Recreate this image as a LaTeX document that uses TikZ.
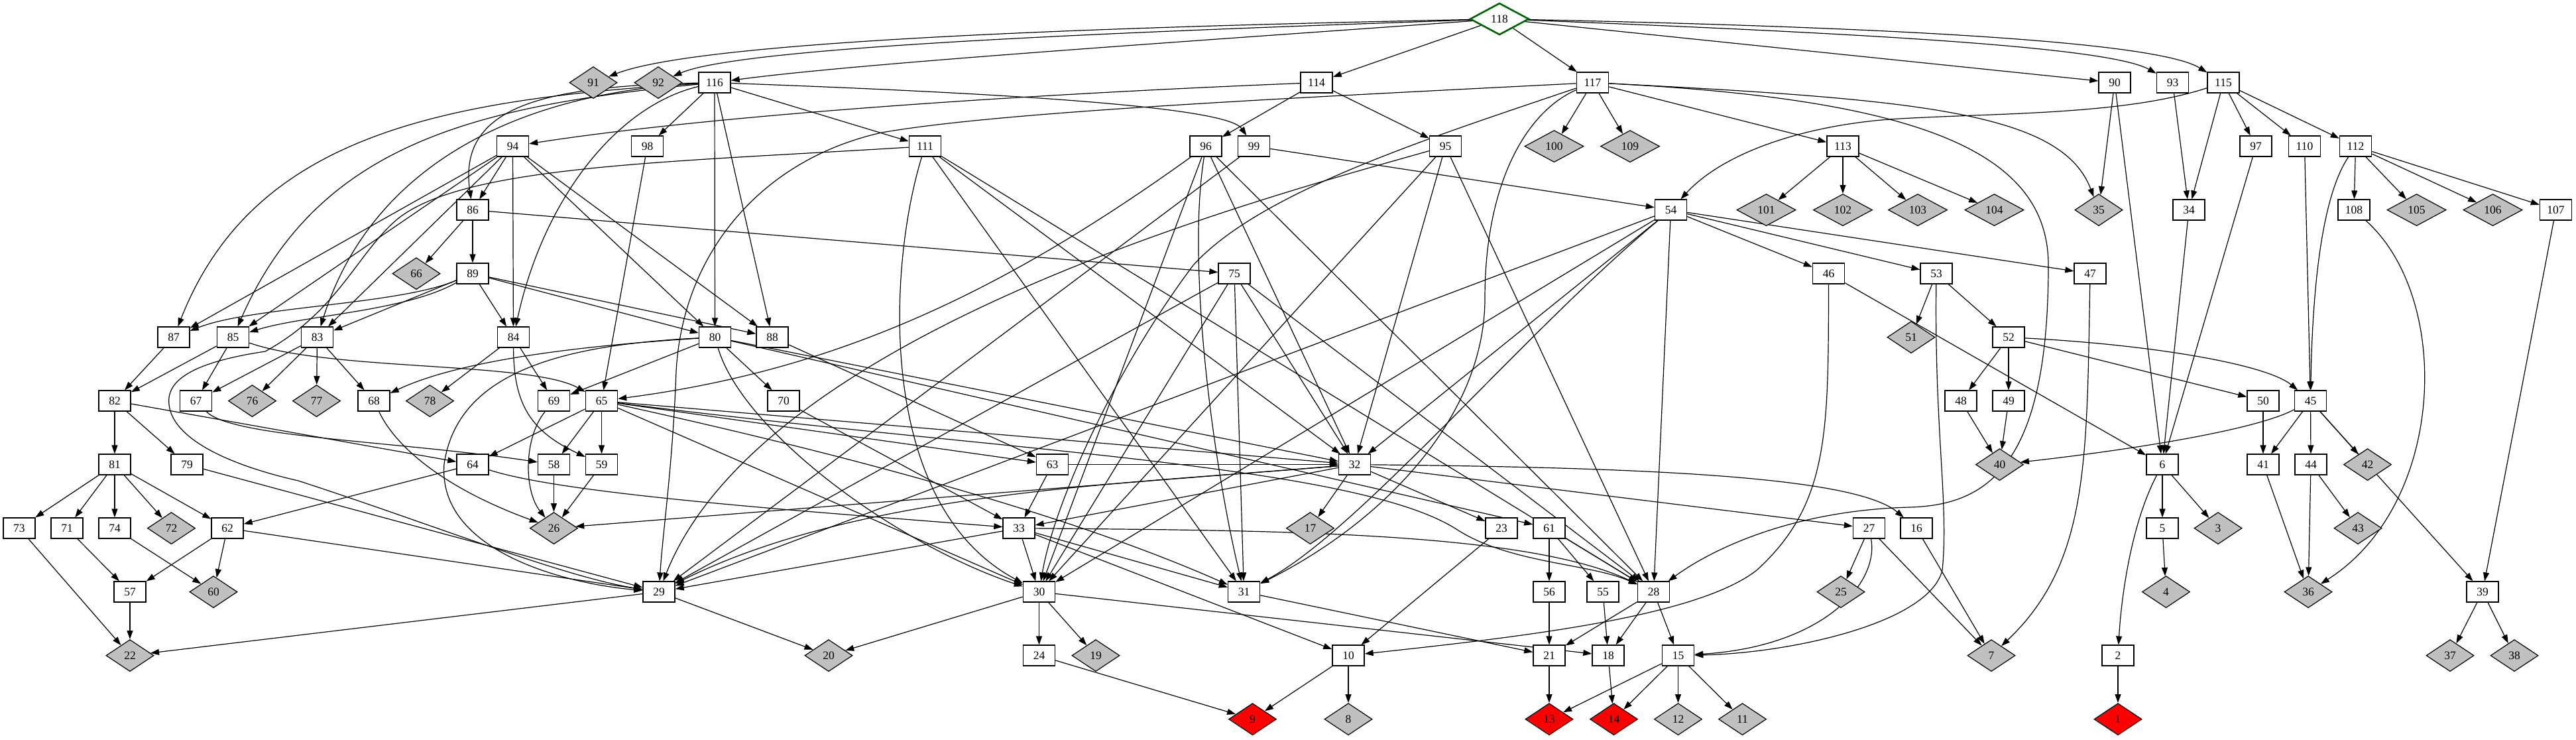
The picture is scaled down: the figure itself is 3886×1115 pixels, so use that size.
\documentclass[tikz,border=0pt]{standalone}
\usepackage{fontspec}
\setmainfont{Liberation Serif}
\usetikzlibrary{shapes.geometric,arrows.meta}
\pgfdeclarelayer{bg}
\pgfsetlayers{bg,main}
\definecolor{silv}{RGB}{192,192,192}
\definecolor{dgreen}{RGB}{0,100,0}
\begin{document}
\begin{tikzpicture}[x=0.5pt,y=-0.5pt,
 lbl/.style={font=\fontsize{8.75pt}{10pt}\selectfont},
 box/.style={lbl,rectangle,draw=black,line width=0.7pt,fill=white,minimum width=24pt,minimum height=15.5pt,inner sep=0pt},
 dia/.style={lbl,diamond,draw=black,line width=0.6pt,fill=silv,minimum width=36pt,minimum height=24pt,inner sep=0pt},
 diaw/.style={dia,minimum width=44.5pt},
 rdia/.style={dia,fill=red},
 gdia/.style={diaw,fill=white,draw=dgreen,line width=1.3pt},
 edge/.style={line width=0.6pt,-{Triangle[length=6.5pt,width=4.5pt]}}]
\useasboundingbox (0,0) rectangle (3886,1115);
% ---------- nodes ----------
\node[gdia] (n118) at (2262,28.6) {118};
\foreach \x/\n in {1078/116,1986/114,2402.5/117,3190/90,3277.5/93,3354/115} \node[box] (n\n) at (\x,124.6) {\n};
\foreach \x/\n in {895/91,993/92} \node[dia] (n\n) at (\x,124.6) {\n};
\foreach \x/\n in {773.5/94,976.5/98,1395.5/111,1819/96,1891.5/99,2180.5/95,2780/113,3403/97,3476.5/110,3553.5/112} \node[box] (n\n) at (\x,220.6) {\n};
\foreach \x/\n in {2344.5/100,2459/109} \node[diaw] (n\n) at (\x,220.6) {\n};
\foreach \x/\n in {713/86,2520.5/54,3302/34,3551/108,3855.5/107} \node[box] (n\n) at (\x,316.6) {\n};
\foreach \x/\n in {2664.5/101,2780/102,2893/103,3008.5/104,3645.5/105,3760.5/106} \node[diaw] (n\n) at (\x,316.6) {\n};
\node[dia] (n35) at (3166,316.6) {35};
\foreach \x/\n in {713/89,1862/75,2758.5/46,2921/53,3153/47} \node[box] (n\n) at (\x,412.6) {\n};
\node[dia] (n66) at (628,412.6) {66};
\foreach \x/\n in {262/87,351.5/85,478.5/83,774.5/84,1078.5/80,1165/88,3030/52} \node[box] (n\n) at (\x,508.6) {\n};
\node[dia] (n51) at (2883,508.6) {51};
\foreach \x/\n in {173/82,295.5/67,564/68,835.5/69,907.5/65,1182/70,2958/48,3030/49,3414/50,3485.5/45} \node[box] (n\n) at (\x,604.6) {\n};
\foreach \x/\n in {380.5/76,477.5/77,648.5/78} \node[dia] (n\n) at (\x,604.6) {\n};
\foreach \x/\n in {173/81,282/79,713/64,835.5/58,907.5/59,1587.5/63,2043.5/32,3262/6,3414/41,3486/44} \node[box] (n\n) at (\x,700.6) {\n};
\foreach \x/\n in {3016.5/40,3571.5/42} \node[dia] (n\n) at (\x,700.6) {\n};
\foreach \x/\n in {29/73,101/71,173/74,343/62,1537/33,2265/23,2337/61,2819.5/27,2891/16,3262/5} \node[box] (n\n) at (\x,796.6) {\n};
\foreach \x/\n in {258.5/72,835.5/26,1976.5/17,3346/3,3557/43} \node[dia] (n\n) at (\x,796.6) {\n};
\foreach \x/\n in {196/57,994/29,1567.5/30,1876.5/31,2337/56,2418/55,2494.5/28,3745/39} \node[box] (n\n) at (\x,892.6) {\n};
\foreach \x/\n in {322/60,2777/25,3267.5/4,3482/36} \node[dia] (n\n) at (\x,892.6) {\n};
\foreach \x/\n in {1567.5/24,2034/10,2337/21,2426/18,2531.5/15,3195/2} \node[box] (n\n) at (\x,988.6) {\n};
\foreach \x/\n in {196/22,1250/20,1653/19,3004/7,3696/37,3793/38} \node[dia] (n\n) at (\x,988.6) {\n};
\foreach \x/\n in {1889.5/9,2337/13,2434.5/14,3195/1} \node[rdia] (n\n) at (\x,1084.6) {\n};
\foreach \x/\n in {2034/8,2531.5/12,2628.5/11} \node[dia] (n\n) at (\x,1084.6) {\n};
% ---------- edges ----------
\begin{pgfonlayer}{bg}
\fill[white] (0,0) rectangle (3886,1115);
\foreach \a/\b in {118/114,118/117,118/90,
116/98,116/80,116/88,116/111,
114/96,114/95,
117/100,117/109,117/113,
90/35,90/6,93/34,
115/34,115/97,115/110,115/112,
94/87,94/85,94/83,94/86,94/84,94/80,94/88,
98/65,
111/31,111/32,111/28,
96/30,96/32,96/28,
99/54,99/29,
95/32,95/30,95/28,
113/101,113/102,113/103,113/104,
97/6,110/45,
112/108,112/105,112/106,112/107,
86/66,86/89,86/75,
54/29,54/32,54/30,54/28,54/46,54/53,54/47,
89/83,89/84,89/80,89/88,
75/29,75/30,75/31,75/32,75/28,
46/6,53/51,53/52,
87/82,85/82,85/67,
83/67,83/76,83/77,83/68,
84/78,84/69,
80/69,80/70,80/32,80/61,
88/63,
82/81,82/79,82/64,
65/64,65/58,65/59,65/63,65/32,65/30,
70/33,
81/73,81/71,81/74,81/72,81/62,
79/29,64/62,58/26,59/26,
63/33,63/32,
32/17,32/23,32/27,32/26,32/33,
33/29,33/30,33/31,33/10,
31/21,30/20,30/24,30/19,30/18,
29/22,29/20,
62/57,62/60,62/29,
73/22,71/57,74/60,57/22,
24/9,10/9,10/8,23/10,
61/56,61/55,61/28,56/21,55/18,
28/21,28/18,28/15,
21/13,18/14,
15/13,15/14,15/12,15/11,
27/25,27/7,16/7,
52/48,52/49,52/50,
48/40,49/40,50/41,
45/41,45/44,45/42,45/39,
6/5,6/3,5/4,2/1,
41/36,44/36,44/43,107/39,
39/37,39/38,34/6}
  \draw[edge] (n\a) -- (n\b);
% curved edges
\draw[edge] (n118) .. controls (1700,40) and (1060,60) .. (n91);
\draw[edge] (n118) .. controls (1700,48) and (1120,70) .. (n92);
\draw[edge] (n118) .. controls (1800,62) and (1300,95) .. (n116);
\draw[edge] (n118) .. controls (2800,40) and (3250,60) .. (n115);
\draw[edge] (n118) .. controls (2800,50) and (3180,70) .. (n93);
\draw[edge] (n116) .. controls (650,150) and (380,210) .. (n87);
\draw[edge] (n116) .. controls (720,160) and (480,215) .. (n85);
\draw[edge] (n116) .. controls (780,140) and (560,250) .. (n83);
\draw[edge] (n116) .. controls (820,130) and (690,160) .. (n86);
\draw[edge] (n116) .. controls (930,160) and (820,300) .. (n84);
\draw[edge] (n116) .. controls (1500,140) and (1850,160) .. (n99);
\draw[edge] (n114) .. controls (1600,140) and (1100,170) .. (n94);
\draw[edge] (n117) .. controls (1900,150) and (1500,170) .. (1330,200) .. controls (1150,240) and (1030,380) .. (1020,560) .. controls (1015,700) and (1000,800) .. (n29);
\draw[edge] (n117) .. controls (2900,150) and (3090,230) .. (3090,400) .. controls (3090,700) and (3000,762) .. (2880,765) .. controls (2700,770) and (2580,830) .. (n28);
\draw[edge] (n117) .. controls (2900,150) and (3110,170) .. (n35);
\draw[edge] (n117) .. controls (2300,170) and (2240,280) .. (2240,450) .. controls (2240,620) and (2100,780) .. (n31);
\draw[edge] (n117) .. controls (2150,210) and (1900,290) .. (1800,400) .. controls (1680,560) and (1590,760) .. (n30);
\draw[edge] (n115) .. controls (3200,175) and (3000,170) .. (2850,180) .. controls (2720,190) and (2600,230) .. (n54);
\draw[edge] (n54) .. controls (2300,500) and (2050,800) .. (n31);
\draw[edge] (n111) .. controls (1000,245) and (700,250) .. (600,330) .. controls (540,380) and (510,470) .. (400,530) .. controls (300,545) and (250,570) .. (255,610) .. controls (260,660) and (340,700) .. (450,725) .. controls (650,790) and (850,870) .. (n29);
\draw[edge] (n111) .. controls (1340,400) and (1320,760) .. (n30);
\draw[edge] (n80) .. controls (850,520) and (690,560) .. (670,700) .. controls (660,830) and (850,880) .. (n29);
\draw[edge] (n80) .. controls (900,520) and (700,540) .. (n68);
\draw[edge] (n80) .. controls (1120,650) and (1350,820) .. (n30);
\draw[edge] (n89) .. controls (600,460) and (380,462) .. (n87);
\draw[edge] (n89) .. controls (610,470) and (460,475) .. (n85);
\draw[edge] (n46) .. controls (2758,650) and (2760,760) .. (2650,860) .. controls (2560,930) and (2300,960) .. (n10);
\draw[edge] (n53) .. controls (2918,650) and (2940,760) .. (2930,860) .. controls (2910,940) and (2700,985) .. (n15);
\draw[edge] (n27) .. controls (2835,880) and (2750,975) .. (n15);
\draw[edge] (n47) .. controls (3148,700) and (3150,850) .. (n7);
\draw[edge] (n32) .. controls (1700,730) and (1300,740) .. (n29);
\draw[edge] (n32) .. controls (2500,705) and (2800,720) .. (n16);
\draw[edge] (n85) .. controls (500,560) and (800,545) .. (n65);
\draw[edge] (n84) .. controls (775,610) and (800,650) .. (n59);
\draw[edge] (n67) .. controls (350,660) and (600,665) .. (n58);
\draw[edge] (n68) .. controls (600,680) and (680,740) .. (n26);
\draw[edge] (n69) .. controls (790,660) and (790,740) .. (n26);
\draw[edge] (n96) .. controls (1500,450) and (1250,560) .. (n65);
\draw[edge] (n96) .. controls (1790,400) and (1830,700) .. (n31);
\draw[edge] (n95) .. controls (1900,300) and (1150,500) .. (n29);
\draw[edge] (n33) .. controls (1900,800) and (2300,800) .. (n28);
\draw[edge] (n65) .. controls (1250,680) and (1600,770) .. (n31);
\draw[edge] (n65) .. controls (1500,680) and (2050,700) .. (2200,800) .. controls (2280,850) and (2400,850) .. (n28);
\draw[edge] (n64) .. controls (850,745) and (1200,770) .. (n33);
\draw[edge] (n112) .. controls (3500,300) and (3488,450) .. (n45);
\draw[edge] (n108) .. controls (3700,450) and (3690,760) .. (n36);
\draw[edge] (n52) .. controls (3250,520) and (3420,550) .. (n45);
\draw[edge] (n45) .. controls (3400,650) and (3200,680) .. (n40);
\draw[edge] (n6) .. controls (3215,790) and (3200,900) .. (n2);
\end{pgfonlayer}
\end{tikzpicture}
\end{document}
